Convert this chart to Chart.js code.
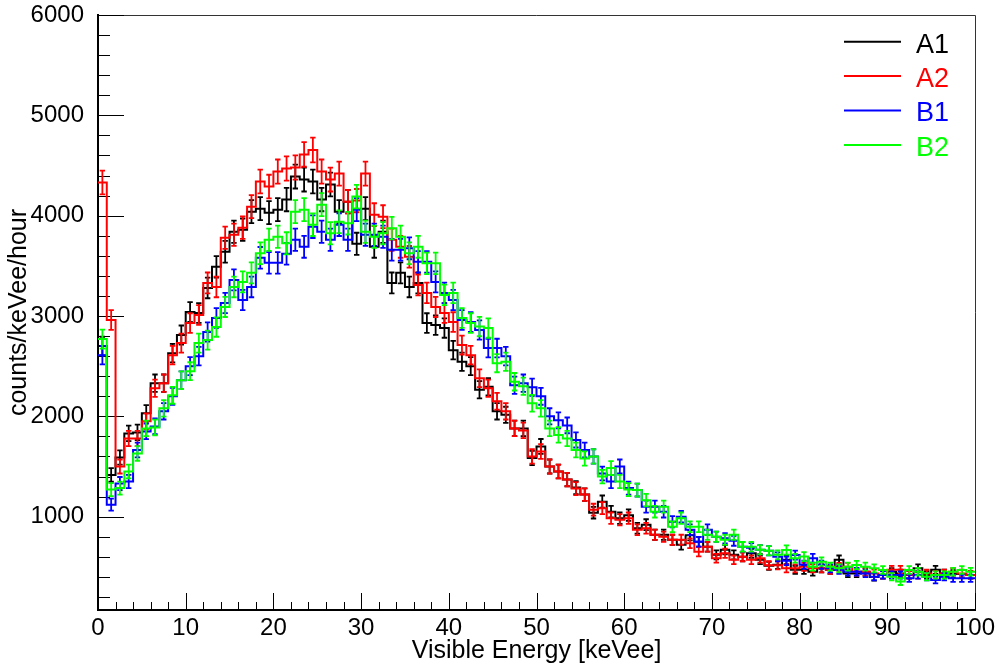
<!DOCTYPE html>
<html>
<head>
<meta charset="utf-8">
<title>Visible energy spectra</title>
<script src="https://cdn.jsdelivr.net/npm/chart.js@4.4.1/dist/chart.umd.min.js"></script>
<style>
  html, body { margin: 0; padding: 0; background: #fff; }
  canvas { display: block; }
</style>
</head>
<body>
<canvas id="spectrum" width="996" height="667"></canvas>
<script>
// histogram binning: 1 keVee bins from 0 to 100 keVee
const binWidth = 1;
const nBins = 100;
const binEdges = Array.from({length: nBins + 1}, (_, i) => i * binWidth);

const xTicks = [0, 10, 20, 30, 40, 50, 60, 70, 80, 90, 100];
const yTicks = [1000, 2000, 3000, 4000, 5000, 6000];

const seriesNames = ['A1', 'A2', 'B1', 'B2'];
const seriesColors = ['#000000', '#ff0000', '#0000ff', '#00ff00'];

// counts/keVee/hour, one value per bin
const countsA1 = [
  2700, 1416, 1590, 1830, 1840, 2030, 2330, 2330, 2630, 2810,
  3040, 3030, 3280, 3490, 3640, 3840, 3860, 4040, 4070, 4030,
  4060, 4160, 4390, 4360, 4340, 4160, 4310, 4040, 4140, 3720,
  4070, 3690, 3840, 3330, 3430, 3290, 3330, 2930, 2910, 2880,
  2660, 2545, 2500, 2265, 2295, 2050, 2015, 1880, 1880, 1585,
  1700, 1500, 1450, 1370, 1290, 1220, 1040, 1150, 1050, 985,
  1015, 885, 920, 820, 820, 770, 720, 815, 750, 700,
  620, 670, 620, 600, 635, 570, 510, 520, 570, 470,
  470, 450, 485, 470, 570, 435, 435, 450, 400, 420,
  450, 435, 420, 485, 420, 470, 435, 430, 430, 420
];
const countsA2 = [
  4330, 2960, 1500, 1780, 1780, 1950, 2280, 2330, 2610, 2730,
  2930, 3010, 3330, 3290, 3780, 3810, 3880, 4090, 4340, 4290,
  4440, 4470, 4480, 4610, 4655, 4440, 4360, 4420, 4140, 4150,
  4420, 4010, 3990, 3760, 3690, 3590, 3310, 3230, 3090, 3030,
  2940, 2710, 2610, 2380, 2280, 2150, 2050, 1880, 1860, 1600,
  1650, 1500, 1450, 1370, 1280, 1220, 1070, 1085, 985, 970,
  985, 870, 885, 820, 800, 770, 770, 735, 650, 700,
  585, 635, 570, 600, 570, 585, 515, 515, 485, 485,
  500, 485, 485, 470, 500, 500, 450, 450, 435, 420,
  470, 470, 420, 420, 435, 420, 435, 450, 435, 420
];
const countsB1 = [
  2610, 1120, 1330, 1350, 1665, 1850, 1900, 2050, 2200, 2360,
  2500, 2600, 2840, 2980, 3130, 3360, 3160, 3290, 3580, 3530,
  3530, 3620, 3760, 3690, 3890, 3840, 3760, 3910, 3760, 4060,
  3810, 3810, 3790, 3660, 3660, 3675, 3540, 3540, 3340, 3230,
  3160, 2960, 2940, 2860, 2680, 2680, 2600, 2310, 2330, 2290,
  2200, 2000, 1960, 1910, 1765, 1665, 1600, 1430, 1350, 1500,
  1285, 1265, 1100, 1100, 1050, 950, 1000, 870, 750, 870,
  800, 785, 760, 700, 690, 670, 660, 600, 560, 618,
  520, 585, 520, 485, 470, 452, 452, 435, 402, 419,
  419, 419, 386, 419, 402, 369, 402, 386, 386, 386
];
const countsB2 = [
  2770, 1270, 1285, 1450, 1630, 1880, 1890, 2080, 2210, 2360,
  2450, 2730, 2760, 2890, 3090, 3290, 3340, 3430, 3625, 3760,
  3790, 3725, 4040, 4060, 3910, 4110, 3825, 3940, 3925, 4190,
  3840, 3790, 3825, 3875, 3790, 3625, 3690, 3525, 3525, 3210,
  3230, 2980, 2930, 2895, 2880, 2530, 2545, 2345, 2300, 2130,
  2080, 1880, 1815, 1780, 1665, 1580, 1600, 1400, 1485, 1350,
  1270, 1265, 1165, 1050, 1100, 900, 985, 900, 900, 820,
  800, 770, 820, 700, 700, 670, 660, 620, 668, 585,
  602, 502, 552, 502, 485, 502, 519, 502, 485, 469,
  402, 353, 469, 452, 402, 419, 419, 452, 469, 452
];
const seriesCounts = [countsA1, countsA2, countsB1, countsB2];

// statistical error bars: half length ~ 1.8*sqrt(counts), scale
const errScale = 1.8;

const FONT = "'Liberation Sans', Arial, Helvetica, sans-serif";
Chart.defaults.font.family = FONT;
Chart.defaults.color = '#000';

// step outline: one point per bin lower edge, last point closes the final bin
function stepPoints(counts) {
  const pts = counts.map((c, i) => ({x: binEdges[i], y: c}));
  pts.push({x: binEdges[nBins], y: counts[nBins - 1]});
  return pts;
}

// ROOT-like frame: thin top/right border, inward major and minor ticks
const frameTicks = {
  id: 'frameTicks',
  beforeDatasetsDraw(chart) {
    const {ctx, chartArea: a, scales: {x, y}} = chart;
    ctx.save();
    ctx.strokeStyle = '#333';
    ctx.lineWidth = 1;
    ctx.beginPath();
    ctx.moveTo(a.left, a.top + 0.5);
    ctx.lineTo(a.right + 0.5, a.top + 0.5);
    ctx.lineTo(a.right + 0.5, a.bottom);
    ctx.stroke();

    ctx.strokeStyle = '#000';
    ctx.beginPath();
    // y ticks every 200, major every 1000
    for (let v = 200; v <= 6000; v += 200) {
      if (v < y.min) continue;
      const py = Math.round(y.getPixelForValue(v)) + 0.5;
      const len = v % 1000 === 0 ? 26 : 12;
      ctx.moveTo(a.left, py);
      ctx.lineTo(a.left + len, py);
    }
    // x ticks every 2, major every 10
    for (let v = 0; v <= 100; v += 2) {
      const px = Math.round(x.getPixelForValue(v)) + 0.5;
      const len = v % 10 === 0 ? 17 : 8;
      ctx.moveTo(px, a.bottom);
      ctx.lineTo(px, a.bottom - len);
    }
    ctx.stroke();
    ctx.restore();
  }
};

const errorBars = {
  id: 'errorBars',
  afterDatasetDraw(chart, args) {
    const {ctx, chartArea: a, scales: {x, y}} = chart;
    const counts = seriesCounts[args.index];
    ctx.save();
    ctx.beginPath();
    ctx.rect(a.left, a.top, a.right - a.left, a.bottom - a.top);
    ctx.clip();
    ctx.strokeStyle = seriesColors[args.index];
    ctx.lineWidth = 1.8;
    ctx.beginPath();
    counts.forEach((c, i) => {
      const err = errScale * Math.sqrt(c);
      const px = x.getPixelForValue(binEdges[i] + binWidth / 2);
      const top = y.getPixelForValue(c + err);
      const bot = y.getPixelForValue(c - err);
      ctx.moveTo(px, top);
      ctx.lineTo(px, bot);
      ctx.moveTo(px - 2.7, top);
      ctx.lineTo(px + 2.7, top);
      ctx.moveTo(px - 2.7, bot);
      ctx.lineTo(px + 2.7, bot);
    });
    ctx.stroke();
    ctx.restore();
  }
};

// legend in the upper right of the frame, no border
const frameLegend = {
  id: 'frameLegend',
  afterDraw(chart) {
    const {ctx} = chart;
    ctx.save();
    ctx.font = '27px ' + FONT;
    ctx.textBaseline = 'middle';
    ctx.textAlign = 'left';
    chart.data.datasets.forEach((ds, i) => {
      const ly = 41.7 + i * 34.4;
      ctx.strokeStyle = ds.borderColor;
      ctx.lineWidth = 2;
      ctx.beginPath();
      ctx.moveTo(844, ly);
      ctx.lineTo(901, ly);
      ctx.stroke();
      ctx.fillStyle = ds.borderColor;
      ctx.fillText(ds.label, 916, ly + 3.5);
    });
    ctx.restore();
  }
};

const datasets = seriesNames.map((name, i) => ({
  label: name,
  data: stepPoints(seriesCounts[i]),
  borderColor: seriesColors[i],
  backgroundColor: seriesColors[i],
  borderWidth: 2,
  stepped: true,
  pointRadius: 0,
  fill: false,
  order: seriesNames.length - i   // later series drawn on top, like ROOT
}));

new Chart(document.getElementById('spectrum'), {
  type: 'line',
  data: {datasets},
  options: {
    responsive: false,
    animation: false,
    devicePixelRatio: 1,
    layout: {padding: {top: 15, right: 21, bottom: 0, left: 0}},
    plugins: {
      legend: {display: false},
      tooltip: {enabled: false}
    },
    scales: {
      x: {
        type: 'linear',
        position: 'bottom',
        min: 0,
        max: 100,
        grid: {display: false},
        border: {display: true, color: '#000', width: 2},
        afterBuildTicks: s => { s.ticks = xTicks.map(v => ({value: v})); },
        afterFit: s => { s.height = 57; s.paddingLeft = 0; s.paddingRight = 0; },
        ticks: {
          font: {size: 24},
          color: '#000',
          padding: -4,
          autoSkip: false,
          maxRotation: 0,
          callback: v => String(v)
        },
        title: {
          display: true,
          text: 'Visible Energy [keVee]',
          font: {size: 25},
          color: '#000',
          padding: {top: 0, bottom: 1}
        }
      },
      y: {
        type: 'linear',
        position: 'left',
        min: 70,
        max: 6000,
        grid: {display: false},
        border: {display: true, color: '#000', width: 2},
        afterBuildTicks: s => { s.ticks = yTicks.map(v => ({value: v})); },
        afterFit: s => { s.width = 98; s.paddingTop = 0; s.paddingBottom = 0; },
        ticks: {
          font: {size: 24},
          color: '#000',
          padding: 6,
          callback: v => String(v)
        },
        title: {
          display: true,
          text: 'counts/keVee/hour',
          font: {size: 25},
          color: '#000',
          padding: {top: 4, bottom: 0}
        }
      }
    }
  },
  plugins: [frameTicks, errorBars, frameLegend]
});
</script>
</body>
</html>
